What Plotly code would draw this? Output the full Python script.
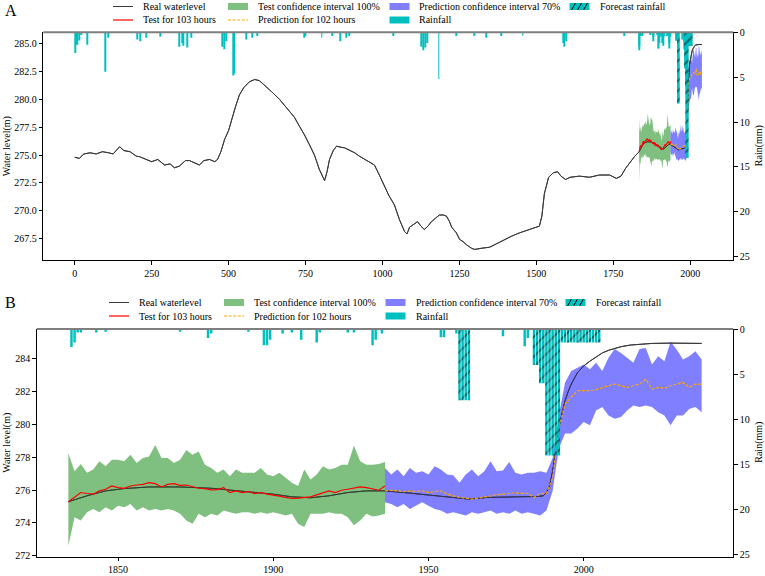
import plotly.graph_objects as go

# ---------------- data ----------------
real_hours = [0, 15, 30, 50, 70, 90, 110, 125, 146, 160, 180, 200, 211, 230, 250, 270, 292, 310, 324, 340,
              360, 373, 390, 405, 420, 438, 455, 464, 475, 487, 500, 510, 522, 535, 550, 568, 585, 600, 617, 640,
              666, 690, 714, 730, 747, 765, 779, 795, 812, 820, 828, 840, 851, 865, 877, 895, 910, 925, 942, 960,
              974, 990, 1006, 1020, 1039, 1055, 1072, 1080, 1088, 1100, 1114, 1125, 1136, 1148, 1159, 1172, 1185,
              1198, 1208, 1218, 1225, 1240, 1251, 1262, 1274, 1290, 1300, 1320, 1348, 1370, 1397, 1420, 1446, 1470,
              1494, 1510, 1518, 1526, 1540, 1555, 1569, 1580, 1595, 1610, 1640, 1673, 1705, 1738, 1760, 1775, 1790,
              1805, 1820, 1834, 1840, 1846, 1852, 1860, 1870, 1880, 1890, 1900, 1906, 1912, 1918, 1924, 1930, 1936,
              1942, 1947, 1952, 1958, 1963, 1969, 1974, 1979, 1985, 1987, 1988, 1989, 1990, 1991, 1992, 1993, 1994,
              1995, 1996, 1998, 2000, 2002, 2004, 2006, 2008, 2010, 2012, 2015, 2018, 2022, 2028, 2038]
real_level = [274.8, 274.7, 275.1, 275.2, 275.1, 275.3, 275.2, 275.1, 275.75, 275.4, 275.3, 274.9, 274.85, 274.6,
              274.4, 274.6, 274.1, 274.2, 273.85, 274.0, 274.5, 274.5, 274.3, 274.1, 274.5, 274.6, 274.4, 274.6,
              275.3, 276.4, 277.2, 278.2, 279.3, 280.4, 281.1, 281.6, 281.8, 281.7, 281.3, 280.7, 280.0, 279.2,
              278.4, 277.6, 276.8, 275.8, 275.0, 273.7, 272.7, 273.5, 274.6, 275.4, 275.8, 275.7, 275.65, 275.4,
              275.2, 274.9, 274.6, 274.3, 274.1, 273.2, 272.3, 271.4, 270.5, 269.2, 268.1, 267.9, 268.5, 268.7,
              269.0, 268.6, 268.3, 268.6, 269.0, 269.3, 269.6, 269.6, 269.5, 269.0, 268.5, 268.0, 267.4, 267.2,
              266.9, 266.6, 266.5, 266.6, 266.7, 267.0, 267.4, 267.7, 268.0, 268.2, 268.4, 268.6, 269.5, 271.5,
              273.0, 273.4, 273.5, 273.1, 272.8, 273.0, 273.1, 273.0, 273.2, 273.2, 272.9, 273.1, 273.8, 274.4,
              274.9, 275.29, 275.65, 275.95, 276.09, 276.19, 276.19, 276.11, 275.95, 275.75, 275.59, 275.53,
              275.65, 275.85, 275.95, 275.95, 275.85, 275.75, 275.65, 275.55, 275.45, 275.55, 275.59, 275.59,
              275.61, 275.65, 275.85, 276.25, 277.15, 278.35, 279.75, 280.65, 281.46, 282.0, 282.46, 283.16,
              283.56, 283.86, 284.12, 284.36, 284.52, 284.64, 284.74, 284.84, 284.9, 284.94, 284.96, 284.94]

test_hours = list(range(1834, 1937, 2))
test_level = [275.29, 275.55, 275.85, 275.79, 275.75, 275.95, 276.05, 276.25, 276.15, 276.11,
              276.25, 276.31, 276.35, 276.45, 276.39, 276.19, 276.35, 276.39, 276.29, 276.31,
              276.19, 276.11, 276.09, 276.01, 276.03, 276.15, 275.85, 275.95, 275.85, 275.91,
              275.79, 275.85, 275.75, 275.71, 275.63, 275.55, 275.49, 275.51, 275.55, 275.59,
              275.71, 275.85, 275.95, 275.85, 275.99, 276.05, 276.11, 276.19, 276.15, 276.09,
              275.99, 276.25]
test_upper = [278.25, 277.15, 277.59, 277.05, 277.25, 277.75, 277.45, 277.85, 277.85, 277.75,
              278.15, 277.65, 277.95, 278.05, 278.75, 277.95, 277.95, 277.65, 277.85, 278.45,
              278.15, 278.35, 277.55, 277.35, 277.05, 277.25, 276.85, 277.25, 277.05, 277.05,
              277.05, 277.35, 276.95, 276.85, 277.05, 276.75, 276.45, 276.25, 277.25, 276.65,
              276.95, 277.45, 277.25, 277.35, 277.55, 277.55, 278.71, 277.75, 277.55, 277.55,
              277.59, 277.71]
test_lower = [272.6, 274.35, 274.15, 274.65, 274.85, 274.65, 274.95, 274.75, 275.05, 274.95,
              275.15, 274.75, 274.95, 274.75, 274.85, 274.75, 274.85, 274.75, 274.55, 274.15,
              273.95, 274.55, 274.35, 274.55, 274.45, 274.75, 274.65, 274.55, 274.65, 274.65,
              274.55, 274.65, 274.55, 274.65, 274.55, 274.45, 274.55, 273.95, 273.75, 274.55,
              274.55, 274.55, 274.65, 274.55, 274.55, 274.35, 273.85, 274.15, 274.55, 274.39,
              274.45, 274.55]

pred_hours = list(range(1936, 2039, 2))
pred_level = [275.95, 275.99, 275.95, 275.91, 275.95, 275.91, 275.95, 275.85, 275.91, 275.95,
              275.75, 275.65, 275.55, 275.51, 275.45, 275.51, 275.59, 275.65, 275.71, 275.75,
              275.81, 275.83, 275.81, 275.79, 275.55, 275.79, 275.79, 276.75, 279.75, 281.25,
              281.66, 282.06, 282.06, 282.06, 282.12, 282.26, 282.36, 282.46, 282.36, 282.26,
              282.36, 282.46, 282.76, 282.16, 282.26, 282.2, 282.36, 282.46, 282.56, 282.26,
              282.46, 282.46]
pred_upper = [277.35, 276.95, 277.25, 276.85, 277.35, 277.05, 277.15, 276.95, 277.45, 277.25,
              276.95, 276.91, 276.45, 276.95, 277.25, 276.85, 277.15, 277.75, 277.15, 277.19,
              277.71, 277.05, 276.95, 277.05, 277.05, 277.15, 277.05, 277.95, 280.55, 282.56,
              283.26, 283.46, 283.66, 283.36, 283.76, 283.26, 284.06, 284.6, 284.36, 284.06,
              283.76, 284.6, 284.66, 283.66, 284.16, 283.86, 285.05, 284.56, 283.96, 284.16,
              284.46, 283.96]
pred_lower = [275.25, 275.15, 274.95, 275.15, 274.85, 275.05, 275.25, 275.05, 274.85, 274.75,
              274.55, 274.65, 274.55, 274.45, 274.65, 274.55, 274.65, 274.75, 274.55, 274.65,
              274.55, 274.75, 274.55, 274.65, 274.55, 274.45, 274.75, 275.95, 278.55, 279.45,
              279.45, 279.75, 280.15, 279.95, 280.85, 281.06, 280.55, 280.35, 280.45, 280.85,
              281.16, 281.06, 281.16, 281.06, 280.75, 280.55, 279.95, 280.55, 280.55, 280.95,
              281.06, 280.75]

rain_hours = [2, 5, 8, 15, 22, 40, 98, 110, 202, 212, 233, 278, 341, 349, 352, 366, 379, 480, 485, 493, 516,
              519, 559, 577, 592, 746, 750, 803, 836, 863, 882, 892, 1036, 1127, 1132, 1140, 1147, 1183, 1239,
              1299, 1337, 1386, 1456, 1588, 1592, 1596, 1786, 1835, 1836, 1837, 1838, 1843, 1846, 1870, 1879,
              1880, 1892, 1897, 1898, 1899, 1903, 1906, 1909, 1914, 1915, 1924, 1926, 1932, 1933, 1935, 1954,
              1955, 1959, 1974, 1981, 1982]
rain_mm = [2.3, 1.4, 1.4, 0.9, 0.3, 1.4, 4.4, 0.6, 0.8, 1.0, 0.6, 0.5, 1.6, 1.2, 1.5, 1.7, 0.6, 1.6, 1.9, 1.0,
           4.8, 4.6, 0.8, 0.6, 0.4, 0.6, 0.4, 0.6, 0.4, 1.0, 0.6, 0.4, 0.4, 1.6, 2.0, 1.7, 1.2, 5.2, 0.4, 0.4,
           0.6, 0.4, 0.4, 1.2, 1.6, 1.0, 0.4, 2.0, 1.5, 0.4, 0.4, 0.4, 0.3, 0.3, 1.0, 0.5, 0.3, 1.8, 1.8, 1.2,
           0.5, 0.4, 1.2, 1.5, 0.4, 0.4, 0.4, 1.8, 1.2, 0.5, 0.9, 0.9, 0.5, 0.8, 1.9, 1.0]

fc_hours = [1960, 1961, 1962, 1963, 1984, 1985, 1986, 1987, 1988, 1989, 1990, 1991, 1992,
            1993, 1994, 1995, 1996, 1997, 1998, 1999, 2000, 2001, 2002, 2003, 2004, 2005]
fc_mm = [7.9, 7.9, 7.9, 7.9, 4.0, 4.0, 6.0, 6.0, 14.0, 14.0, 14.0, 14.0, 14.0,
         1.5, 1.5, 1.5, 1.5, 1.5, 1.5, 1.5, 1.5, 1.5, 1.5, 1.5, 1.5, 1.5]

detail_start = 1834  # first hour shown in panel B

ticks_A = [0, 250, 500, 750, 1000, 1250, 1500, 1750, 2000]
ticks_B = [1850, 1900, 1950, 2000]
level_ticks_A = [267.5, 270.0, 272.5, 275.0, 277.5, 280.0, 282.5, 285.0]
level_ticks_B = [272, 274, 276, 278, 280, 282, 284]
rain_ticks = [0, 5, 10, 15, 20, 25]

legend_labels = ["Real waterlevel", "Test confidence interval 100%", "Prediction confidence interval 70%",
                 "Forecast rainfall", "Test for 103 hours", "Prediction for 102 hours", "Rainfall"]

# ---------------- styling ----------------
W, H = 765, 576
FONT = "Liberation Serif, Times New Roman, Times, serif"
CYAN = "#00BFBF"
GREEN_FILL = "rgba(0,128,0,0.5)"
BLUE_FILL = "rgba(0,0,255,0.5)"
REAL_COLOR = "#3a3a3a"
ORANGE_DASH = "3px,1.6px"


def px(x):
    return x / W


def py(y):
    return 1 - y / H


fig = go.Figure()

real_B = [(h, v) for h, v in zip(real_hours, real_level) if h >= detail_start]
real_B_hours = [h for h, _ in real_B]
real_B_level = [v for _, v in real_B]

panels = [
    ("x", "y", "y2", 3.0, real_hours, real_level),
    ("x2", "y3", "y4", 0.8, real_B_hours, real_B_level),
]

for xa, ya, ra, bw, rx, ry in panels:
    common = dict(xaxis=xa, yaxis=ya, showlegend=False)
    fig.add_trace(go.Scatter(x=rx, y=ry, mode="lines", name=legend_labels[0],
                             line=dict(color=REAL_COLOR, width=1), **common))
    fig.add_trace(go.Scatter(x=test_hours, y=test_lower, mode="lines", line=dict(width=0, color=GREEN_FILL),
                             hoverinfo="skip", **common))
    fig.add_trace(go.Scatter(x=test_hours, y=test_upper, mode="lines", fill="tonexty", fillcolor=GREEN_FILL,
                             line=dict(width=0, color=GREEN_FILL), name=legend_labels[1], **common))
    fig.add_trace(go.Scatter(x=pred_hours, y=pred_lower, mode="lines", line=dict(width=0, color=BLUE_FILL),
                             hoverinfo="skip", **common))
    fig.add_trace(go.Scatter(x=pred_hours, y=pred_upper, mode="lines", fill="tonexty", fillcolor=BLUE_FILL,
                             line=dict(width=0, color=BLUE_FILL), name=legend_labels[2], **common))
    fig.add_trace(go.Scatter(x=rx, y=ry, mode="lines", line=dict(color=REAL_COLOR, width=1),
                             hoverinfo="skip", **common))
    fig.add_trace(go.Scatter(x=test_hours, y=test_level, mode="lines", name=legend_labels[4],
                             line=dict(color="red", width=1.2), **common))
    fig.add_trace(go.Scatter(x=pred_hours, y=pred_level, mode="lines", name=legend_labels[5],
                             line=dict(color="orange", width=1.2, dash=ORANGE_DASH), **common))
    fig.add_trace(go.Bar(x=rain_hours, y=rain_mm, width=bw, name=legend_labels[6],
                         marker=dict(color=CYAN, line=dict(width=0)), xaxis=xa, yaxis=ra, showlegend=False))
    fig.add_trace(go.Bar(x=fc_hours, y=fc_mm, width=bw, name=legend_labels[3],
                         marker=dict(color=CYAN, line=dict(width=0),
                                     pattern=dict(shape="/", fgcolor="black", bgcolor=CYAN, size=7, solidity=0.25)),
                         xaxis=xa, yaxis=ra, showlegend=False))

axis_common = dict(showline=True, linecolor="black", linewidth=1, ticks="outside", ticklen=3.5,
                   tickwidth=0.8, tickcolor="black", showgrid=False, zeroline=False,
                   tickfont=dict(family=FONT, size=10, color="black"))

A_left, A_right, A_top, A_bot = 43.3, 733.3, 32.3, 260.0
B_left, B_right, B_top, B_bot = 36.7, 733.3, 329.0, 556.5

fig.update_layout(
    width=W, height=H, margin=dict(l=0, r=0, t=0, b=0, autoexpand=False), showlegend=False,
    paper_bgcolor="white", plot_bgcolor="white", barmode="overlay",
    font=dict(family=FONT, size=10, color="black"),
    xaxis=dict(domain=[px(A_left), px(A_right)], anchor="y", range=[-102, 2140],
               tickvals=ticks_A, **axis_common),
    yaxis=dict(domain=[py(A_bot), py(A_top)], anchor="x", range=[265.55, 286.05],
               tickvals=level_ticks_A, tickformat=".1f", **axis_common),
    yaxis2=dict(overlaying="y", side="right", anchor="x", range=[25.37, 0], tickvals=rain_ticks,
                **axis_common),
    xaxis2=dict(domain=[px(B_left), px(B_right)], anchor="y3", range=[1823.8, 2048.2],
                tickvals=ticks_B, **axis_common),
    yaxis3=dict(domain=[py(B_bot), py(B_top)], anchor="x2", range=[271.95, 285.82],
                tickvals=level_ticks_B, **axis_common),
    yaxis4=dict(overlaying="y3", side="right", anchor="x2", range=[25.2, 0], tickvals=rain_ticks,
                **axis_common),
)

# grey top spines
for (l, r, t) in [(A_left, A_right, A_top), (B_left, B_right, B_top)]:
    fig.add_shape(type="line", xref="paper", yref="paper", x0=px(l), x1=px(r), y0=py(t), y1=py(t),
                  line=dict(color="#7f7f7f", width=2))

# ---------------- legends (matplotlib style, 4 columns x 2 rows) ----------------
legend_layout = [
    ([141, 256, 417.5, 597.5], [6.5, 20.0]),      # panel A
    ([137, 252, 413.5, 593.5], [302.5, 316.0]),   # panel B
]
slots = [(0, 0), (1, 0), (2, 0), (3, 0), (0, 1), (1, 1), (2, 1)]


def add_line_sym(x0, yc, color, width, dash=None):
    fig.add_shape(type="line", xref="paper", yref="paper", x0=px(x0), x1=px(x0 + 20), y0=py(yc), y1=py(yc),
                  line=dict(color=color, width=width, dash=dash or "solid"))


def add_rect_sym(x0, yc, color, hatch=False):
    fig.add_shape(type="rect", xref="paper", yref="paper", x0=px(x0), x1=px(x0 + 20),
                  y0=py(yc + 3.5), y1=py(yc - 3.5), fillcolor=color, line=dict(width=0))
    if hatch:
        for s in (2, 8, 14):
            fig.add_shape(type="line", xref="paper", yref="paper", x0=px(x0 + s), x1=px(x0 + s + 4),
                          y0=py(yc + 3.5), y1=py(yc - 3.5), line=dict(color="black", width=1))


for cols, rows in legend_layout:
    for k, (c, r) in enumerate(slots):
        tx, yc = cols[c], rows[r]
        sx = tx - 28
        if k == 0:
            add_line_sym(sx, yc, REAL_COLOR, 1)
        elif k == 1:
            add_rect_sym(sx, yc, GREEN_FILL)
        elif k == 2:
            add_rect_sym(sx, yc, BLUE_FILL)
        elif k == 3:
            add_rect_sym(sx, yc, CYAN, hatch=True)
        elif k == 4:
            add_line_sym(sx, yc, "red", 1.2)
        elif k == 5:
            add_line_sym(sx, yc, "orange", 1.2, ORANGE_DASH)
        else:
            add_rect_sym(sx, yc, CYAN)
        fig.add_annotation(text=legend_labels[k], xref="paper", yref="paper", x=px(tx), y=py(yc),
                           xanchor="left", yanchor="middle", showarrow=False,
                           font=dict(family=FONT, size=10, color="black"))

annos = [
    dict(text="A", x=px(3), y=py(10), xanchor="left", font=dict(family=FONT, size=16)),
    dict(text="B", x=px(3), y=py(302), xanchor="left", font=dict(family=FONT, size=16)),
    dict(text="Water level(m)", x=px(7), y=py((A_top + A_bot) / 2), textangle=-90),
    dict(text="Water level(m)", x=px(7), y=py((B_top + B_bot) / 2), textangle=-90),
    dict(text="Rain(mm)", x=px(759), y=py((A_top + A_bot) / 2), textangle=-90),
    dict(text="Rain(mm)", x=px(759), y=py((B_top + B_bot) / 2), textangle=-90),
]
for a in annos:
    a.setdefault("xanchor", "center")
    a.setdefault("yanchor", "middle")
    fig.add_annotation(xref="paper", yref="paper", showarrow=False,
                       font=a.pop("font", dict(family=FONT, size=10)), **a)

fig.write_html("out.html")
